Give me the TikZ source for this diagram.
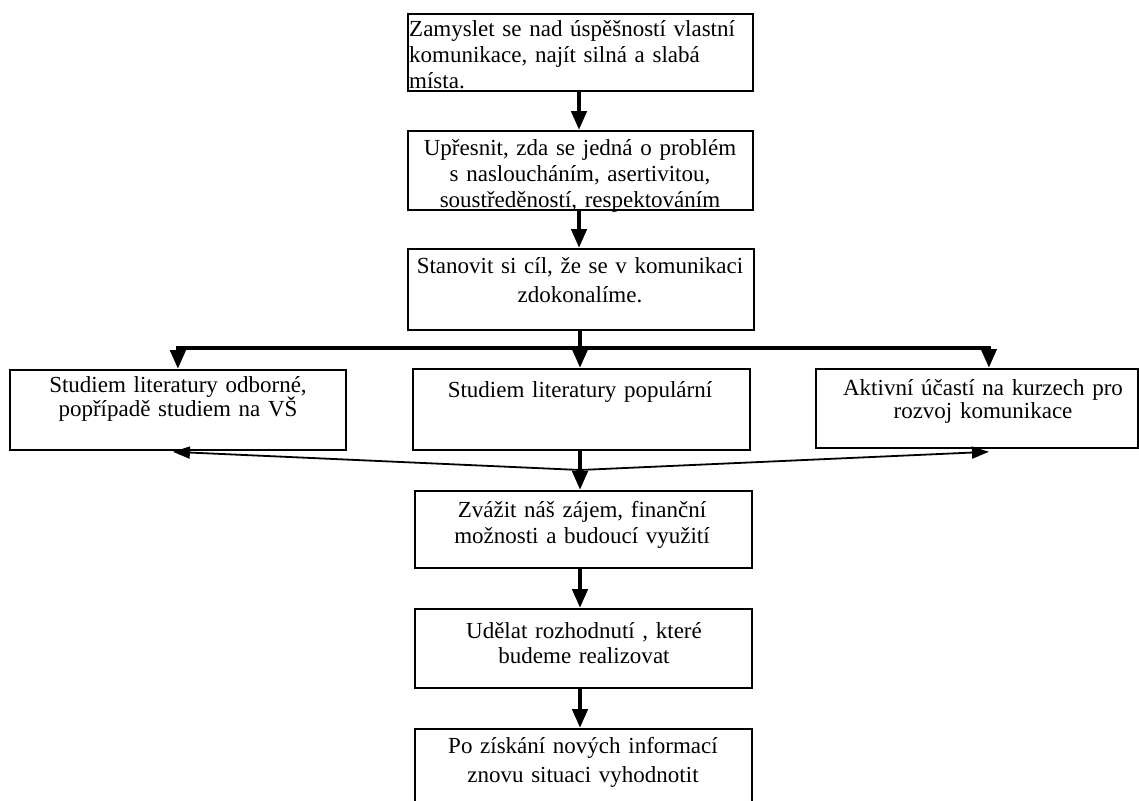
\documentclass[tikz,border=0pt]{standalone}
\usepackage{fontspec}
\setmainfont{Liberation Serif}
\usetikzlibrary{arrows.meta,calc}
\begin{document}
\begin{tikzpicture}[x=1pt,y=-1pt,
  box/.style={draw, line width=1.8pt, anchor=north west, inner sep=0pt},
  txt/.style={anchor=base, inner sep=0pt, align=center, font=\fontsize{23}{26}\selectfont},
  thk/.style={line width=4.4pt, -{Triangle[length=19pt,width=15pt]}},
  thn/.style={line width=1.8pt, -{Triangle[length=17pt,width=12pt]}}]
\useasboundingbox (0,0) rectangle (1139,800);
\clip (0,0) rectangle (1139,800);
% boxes
\node[box, minimum width=345pt, minimum height=77pt] (b1) at (407,13) {};
\node[box, minimum width=345pt, minimum height=79pt] (b2) at (407,130) {};
\node[box, minimum width=346pt, minimum height=81pt] (b3) at (407,248) {};
\node[box, minimum width=336pt, minimum height=80pt] (lb) at (9,369) {};
\node[box, minimum width=337pt, minimum height=81pt] (mb) at (412,368) {};
\node[box, minimum width=322pt, minimum height=79pt] (rb) at (815,368) {};
\node[box, minimum width=337pt, minimum height=77pt] (b4) at (414,490) {};
\node[box, minimum width=337pt, minimum height=79pt] (b5) at (414,608) {};
\node[box, minimum width=337pt, minimum height=100pt] (b6) at (414,728) {};
% texts
\node[txt, align=left, text width=345pt, anchor=base west] (t1) at (409,37) {Zamyslet se nad úspěšností vlastní\\komunikace, najít silná a slabá\\místa.};
\node[txt, text width=345pt] (t2) at (580,155) {Upřesnit, zda se jedná o problém\\s nasloucháním, asertivitou,\\soustředěností, respektováním};
\node[txt, text width=345pt] (t3) at (580,273) {Stanovit si cíl, že se v komunikaci\\[3pt]zdokonalíme.};
\node[txt, text width=335pt] (tl) at (178,392) {Studiem literatury odborné,\\[-2pt]popřípadě studiem na VŠ};
\node[txt, text width=335pt] (tm) at (580,397) {Studiem literatury populární};
\node[txt, text width=320pt] (tr) at (983,395) {Aktivní účastí na kurzech pro\\[-3pt]rozvoj komunikace};
\node[txt, text width=335pt] (t4) at (582,517) {Zvážit náš zájem, finanční\\možnosti a budoucí využití};
\node[txt, text width=335pt] (t5) at (584,638) {Udělat rozhodnutí , které\\[-1pt]budeme realizovat};
\node[txt, text width=335pt] (t6) at (583,753) {Po získání nových informací\\[3pt]znovu situaci vyhodnotit};
% connectors
\coordinate (bus) at (580,348);
\coordinate (split) at (580,470);
\draw[thk] (b1.south -| 579,0) -- (b2.north -| 579,0);
\draw[thk] (b2.south -| 579,0) -- (b3.north -| 579,0);
\draw[thk] (b3.south -| 580,0) -- (mb.north -| 580,0);
\draw[line width=4.4pt, {Triangle[length=19pt,width=15pt]}-{Triangle[length=19pt,width=15pt]}]
  (lb.north) -- (lb.north |- bus) -- ([xshift=12pt]rb.north |- bus) -- ([xshift=12pt]rb.north);
\draw[thk] (mb.south -| 580,0) -- (b4.north -| 580,0);
\draw[thn] (split) -- ([xshift=-5pt,yshift=-1pt]lb.south);
\draw[thn] (split) -- ([xshift=12pt,yshift=-3pt]rb.south);
\draw[thk] (b4.south -| 580,0) -- (b5.north -| 580,0);
\draw[thk] (b5.south -| 580,0) -- (b6.north -| 580,0);
\end{tikzpicture}
\end{document}
